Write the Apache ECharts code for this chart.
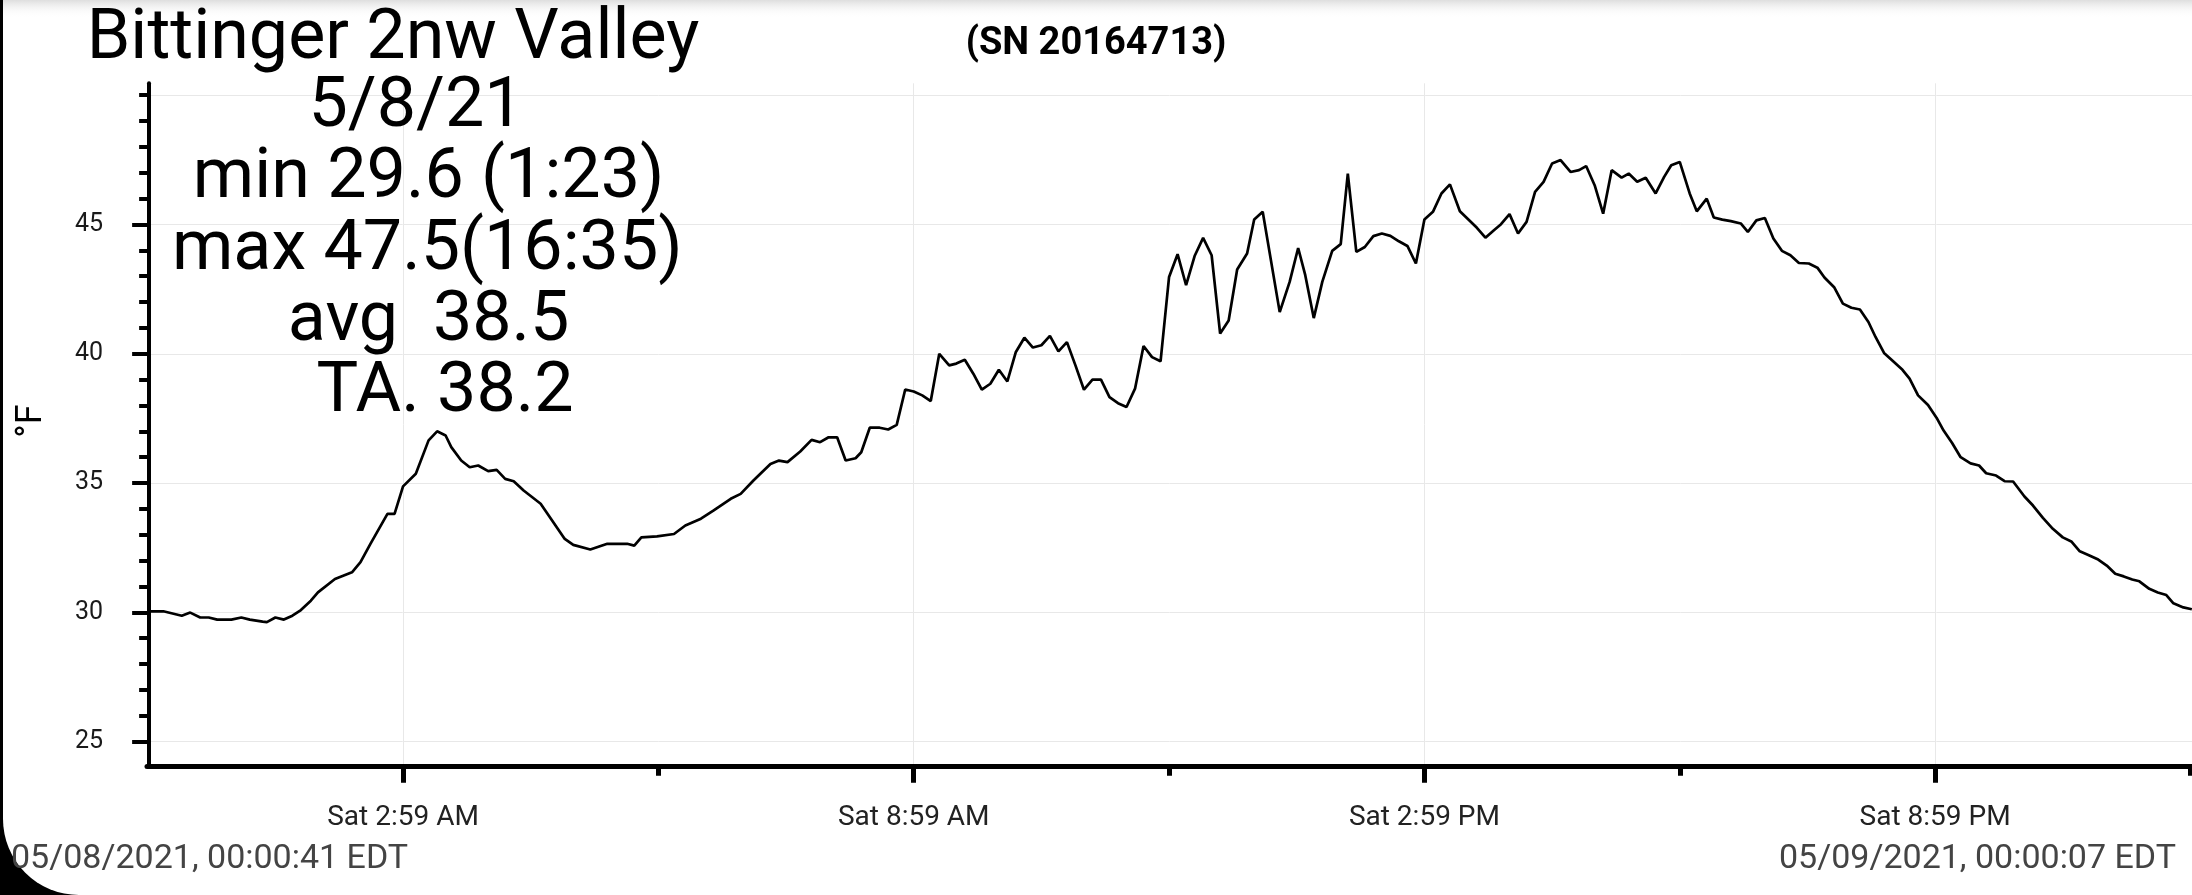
<!DOCTYPE html>
<html>
<head>
<meta charset="utf-8">
<script src="https://cdn.jsdelivr.net/npm/echarts/dist/echarts.min.js"></script>
<style>
html, body { margin: 0; padding: 0; background: #000; }
#chart { width: 2192px; height: 895px; }
</style>
</head>
<body>
<div id="chart"></div>
<script>
// minutes since midnight, 5/8/21
const minutes = [
  0, 10, 23, 29, 36, 42, 48, 58, 65, 71, 80, 83, 89, 95, 101, 107, 114, 119, 131, 143,
  149, 156, 168, 173, 179, 188, 197, 203, 209, 213, 220, 226, 232, 239, 245, 251, 257, 264, 276, 293,
  299, 311, 323, 337, 342, 347, 358, 370, 378, 389, 398, 410, 417, 426, 438, 444, 450, 459, 467, 473,
  479, 485, 491, 498, 502, 508, 515, 521, 527, 533, 539, 545, 551, 557, 564, 569, 575, 581, 587, 593,
  599, 605, 611, 617, 623, 629, 635, 641, 647, 653, 659, 665, 671, 677, 683, 689, 695, 701, 707, 713,
  719, 725, 731, 737, 743, 749, 755, 761, 767, 774, 779, 785, 797, 804, 810, 815, 821, 827, 834, 840,
  845, 851, 857, 863, 869, 875, 881, 887, 893, 899, 905, 911, 917, 924, 930, 936, 942, 948, 953, 959,
  965, 971, 977, 983, 989, 995, 1002, 1008, 1013, 1019, 1025, 1031, 1038, 1043, 1049, 1055, 1062, 1068, 1073, 1079,
  1086, 1091, 1098, 1103, 1109, 1115, 1122, 1127, 1133, 1139, 1145, 1151, 1157, 1163, 1170, 1176, 1181, 1188, 1194, 1200,
  1206, 1212, 1217, 1223, 1230, 1236, 1241, 1247, 1254, 1260, 1265, 1271, 1277, 1284, 1290, 1295, 1302, 1308, 1314, 1322,
  1328, 1335, 1342, 1349, 1355, 1361, 1367, 1374, 1380, 1386, 1392, 1398, 1403, 1410, 1416, 1422, 1427, 1434, 1440
]
const tempF = [
  30.04, 30.04, 29.87, 29.99, 29.80, 29.80, 29.72, 29.72, 29.80, 29.72, 29.64, 29.62, 29.80, 29.72, 29.87, 30.09, 30.45, 30.77, 31.29, 31.55,
  31.94, 32.65, 33.81, 33.81, 34.87, 35.36, 36.65, 37.00, 36.84, 36.39, 35.87, 35.61, 35.68, 35.46, 35.51, 35.16, 35.07, 34.71, 34.20, 32.84,
  32.61, 32.43, 32.65, 32.65, 32.58, 32.90, 32.94, 33.03, 33.36, 33.62, 33.94, 34.39, 34.58, 35.10, 35.74, 35.87, 35.81, 36.22, 36.67, 36.58,
  36.77, 36.77, 35.87, 35.96, 36.19, 37.14, 37.14, 37.07, 37.25, 38.62, 38.54, 38.39, 38.17, 40.00, 39.55, 39.62, 39.77, 39.23, 38.61, 38.84,
  39.38, 38.93, 40.07, 40.62, 40.24, 40.33, 40.69, 40.09, 40.45, 39.55, 38.61, 39.00, 39.00, 38.32, 38.09, 37.94, 38.65, 40.30, 39.87, 39.71,
  42.97, 43.85, 42.65, 43.78, 44.48, 43.81, 40.78, 41.29, 43.26, 43.88, 45.19, 45.49, 41.61, 42.78, 44.09, 43.04, 41.38, 42.78, 43.98, 44.24,
  46.97, 43.94, 44.13, 44.55, 44.65, 44.56, 44.35, 44.17, 43.49, 45.19, 45.49, 46.20, 46.55, 45.51, 45.19, 44.87, 44.49, 44.78, 45.01, 45.40,
  44.65, 45.10, 46.26, 46.65, 47.36, 47.49, 47.03, 47.10, 47.26, 46.52, 45.42, 47.10, 46.81, 46.97, 46.65, 46.81, 46.20, 46.84, 47.29, 47.42,
  46.20, 45.51, 46.00, 45.27, 45.19, 45.13, 45.04, 44.71, 45.16, 45.25, 44.46, 43.98, 43.81, 43.51, 43.49, 43.33, 42.95, 42.56, 41.94, 41.78,
  41.71, 41.23, 40.65, 40.03, 39.68, 39.38, 39.04, 38.39, 38.02, 37.53, 37.03, 36.55, 36.00, 35.76, 35.68, 35.38, 35.29, 35.07, 35.06, 34.48,
  34.13, 33.65, 33.23, 32.90, 32.74, 32.36, 32.22, 32.04, 31.81, 31.49, 31.39, 31.27, 31.20, 30.91, 30.77, 30.67, 30.35, 30.19, 30.12
]

const xMajorTicks = [179, 539, 899, 1259]
const xMinorTicks = [359, 719, 1079, 1439]
const yMajorTicks = [25, 30, 35, 40, 45]
const yMinorTicks = [26, 27, 28, 29, 31, 32, 33, 34, 36, 37, 38, 39, 41, 42, 43, 44, 46, 47, 48, 49, 50]
const yGridLines = [25, 30, 35, 40, 45, 50]

const titleText = 'Bittinger 2nw Valley'
const serialText = '(SN 20164713)'
const statLines = ['5/8/21', 'min 29.6 (1:23)', 'max 47.5(16:35)', 'avg  38.5', 'TA. 38.2']
const startStamp = '05/08/2021, 00:00:41 EDT'
const endStamp = '05/09/2021, 00:00:07 EDT'

const xMin = -1.5, xMax = 1440.1
const yMin = 24.065, yMax = 50.46
const font = 'Roboto'

function timeLabel(m) {
  const h = Math.floor(m / 60), mm = Math.round(m % 60)
  let hh = h % 12
  if (hh === 0) hh = 12
  return 'Sat ' + hh + ':' + String(mm).padStart(2, '0') + ' ' + (h < 12 ? 'AM' : 'PM')
}

const points = minutes.map((m, i) => [m, tempF[i]])

// stats text block, centre x / centre y
const statX = [416, 428.6, 427.3, 428.6, 445]
const statY = [108, 179.5, 251, 322, 393]

const texts = [
  { type: 'text', x: 393, y: 40, z: 10, style: { text: titleText, font: '70px ' + font, fill: '#000', textAlign: 'center', textVerticalAlign: 'middle' } },
  { type: 'text', x: 1096, y: 44, z: 10, style: { text: serialText, font: 'bold 38px ' + font, fill: '#000', textAlign: 'center', textVerticalAlign: 'middle' } },
  { type: 'text', x: 11, y: 859, z: 10, style: { text: startStamp, font: '34px ' + font, fill: '#444', textAlign: 'left', textVerticalAlign: 'middle' } },
  { type: 'text', x: 2176, y: 859, z: 10, style: { text: endStamp, font: '34px ' + font, fill: '#444', textAlign: 'right', textVerticalAlign: 'middle' } },
  { type: 'text', x: 32, y: 421, rotation: Math.PI / 2, z: 10, style: { text: '°F', font: '36px ' + font, fill: '#000', textAlign: 'center', textVerticalAlign: 'middle' } }
]
statLines.forEach((s, i) => {
  texts.push({ type: 'text', x: statX[i], y: statY[i], z: 10, style: { text: s, font: '70px ' + font, fill: '#000', textAlign: 'center', textVerticalAlign: 'middle' } })
})

const chart = echarts.init(document.getElementById('chart'))
chart.setOption({
  animation: false,
  backgroundColor: 'transparent',
  textStyle: { fontFamily: font },
  grid: { left: 147, right: 0, top: 83.3, bottom: 129.2, outerBoundsMode: 'none' },
  graphic: [
    { type: 'rect', z: -20, shape: { x: 3, y: 0, width: 2300, height: 895, r: [0, 0, 0, 76] }, style: { fill: '#fff' } },
    { type: 'rect', z: -19, shape: { x: 3, y: 0, width: 2300, height: 18 },
      style: { fill: new echarts.graphic.LinearGradient(0, 0, 0, 1, [{ offset: 0, color: '#dedede' }, { offset: 1, color: 'rgba(255,255,255,0)' }]) } },
    ...texts
  ],
  xAxis: [
    {
      type: 'value', position: 'bottom', min: xMin, max: xMax,
      axisLine: { show: true, lineStyle: { color: '#000', width: 5 } },
      axisTick: { show: true, customValues: xMajorTicks, length: 17, lineStyle: { color: '#000', width: 5 } },
      axisLabel: { show: true, customValues: xMajorTicks, formatter: v => timeLabel(v), margin: 38, fontSize: 28, color: '#222', fontFamily: font },
      splitLine: { show: true, lineStyle: { color: '#e8e8e8', width: 1 } }
    },
    {
      type: 'value', position: 'bottom', min: xMin, max: xMax,
      axisLine: { show: false },
      axisTick: { show: true, customValues: xMinorTicks, length: 10, lineStyle: { color: '#000', width: 5 } },
      axisLabel: { show: false },
      splitLine: { show: false }
    }
  ],
  yAxis: [
    {
      type: 'value', position: 'left', min: yMin, max: yMax,
      axisLine: { show: true, lineStyle: { color: '#000', width: 4 } },
      axisTick: { show: true, customValues: yMajorTicks, length: 17, lineStyle: { color: '#000', width: 4 } },
      axisLabel: { show: true, customValues: yMajorTicks, margin: 44, fontSize: 25, color: '#1a1a1a', fontFamily: font },
      splitLine: { show: false }
    },
    {
      type: 'value', position: 'left', min: yMin, max: yMax,
      axisLine: { show: false },
      axisTick: { show: true, customValues: yMinorTicks, length: 10, lineStyle: { color: '#000', width: 4 } },
      axisLabel: { show: false },
      splitLine: { show: false }
    },
    {
      type: 'value', position: 'left', min: yMin, max: yMax,
      axisLine: { show: false },
      axisTick: { show: false, customValues: yGridLines },
      axisLabel: { show: false },
      splitLine: { show: true, lineStyle: { color: '#e8e8e8', width: 1 } }
    }
  ],
  series: [
    {
      type: 'line',
      xAxisIndex: 0,
      yAxisIndex: 0,
      data: points,
      showSymbol: false,
      symbol: 'none',
      lineStyle: { color: '#000', width: 2.7 },
      z: 5
    }
  ]
})
</script>
</body>
</html>
